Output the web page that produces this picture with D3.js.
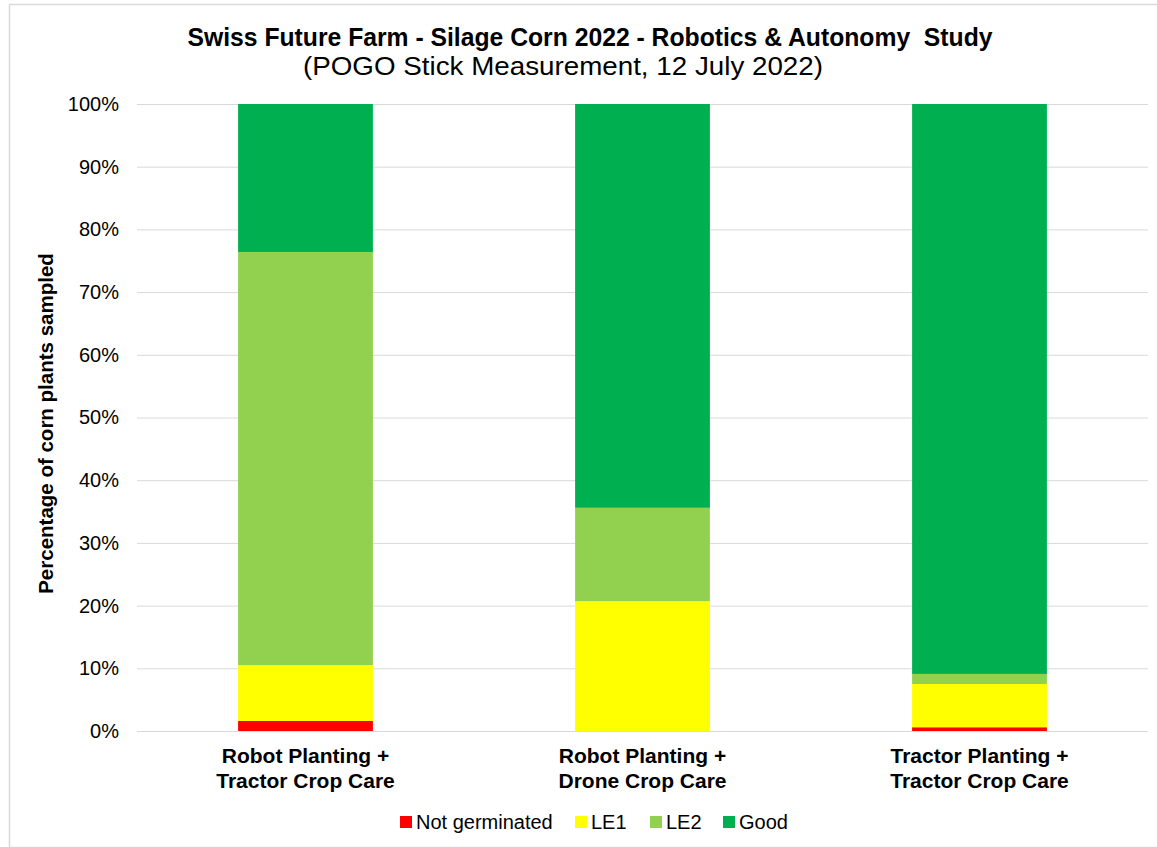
<!DOCTYPE html>
<html>
<head>
<meta charset="utf-8">
<script src="https://cdn.jsdelivr.net/npm/d3@7"></script>
<style>
  html, body { margin: 0; padding: 0; background: #fff; }
  svg { display: block; font-family: "Liberation Sans", Arial, sans-serif; }
</style>
</head>
<body>
<svg id="chart" width="1157" height="847"></svg>
<script>
const categories = [
  ["Robot Planting +", "Tractor Crop Care"],
  ["Robot Planting +", "Drone Crop Care"],
  ["Tractor Planting +", "Tractor Crop Care"]
];
const seriesNames = ["Not germinated", "LE1", "LE2", "Good"];
const seriesColors = ["#FF0000", "#FFFF00", "#92D050", "#00B050"];
const notGerminated = [1.6, 0.0, 0.6];
const le1 = [8.9, 20.7, 6.9];
const le2 = [65.9, 14.9, 1.6];
const good = [23.6, 64.4, 90.9];
const yTicks = [0, 10, 20, 30, 40, 50, 60, 70, 80, 90, 100];
const titleText = "Swiss Future Farm - Silage Corn 2022 - Robotics & Autonomy  Study";
const subtitleText = "(POGO Stick Measurement, 12 July 2022)";
const yAxisTitle = "Percentage of corn plants sampled";

const seriesValues = [notGerminated, le1, le2, good];
const rows = categories.map((c, i) => {
  const r = { key: i };
  seriesNames.forEach((s, j) => { r[s] = seriesValues[j][i]; });
  return r;
});
const stacked = d3.stack().keys(seriesNames)(rows);

const svg = d3.select("#chart");
const W = 1157, H = 847;
const plot = { left: 137, right: 1148, top: 104, bottom: 731 };

// outer border
svg.append("rect").attr("x", 9.5).attr("y", 4.5).attr("width", W + 5).attr("height", H - 4)
  .attr("fill", "#fff").attr("stroke", "#d9d9d9").attr("stroke-width", 1.5);

const x = d3.scaleBand().domain(d3.range(categories.length))
  .range([plot.left, plot.right]).paddingInner(0.6).paddingOuter(0.3);
const y = d3.scaleLinear().domain([0, 100]).range([plot.bottom, plot.top]);

// gridlines + ticks
const yAxis = d3.axisLeft(y).tickValues(yTicks).tickFormat(d => d + "%")
  .tickSize(-(plot.right - plot.left)).tickPadding(18);
const gy = svg.append("g").attr("transform", `translate(${plot.left},0)`).call(yAxis);
gy.select(".domain").remove();
gy.selectAll(".tick line").attr("stroke", "#d9d9d9").attr("stroke-width", 1);
gy.selectAll(".tick text").attr("fill", "#000").style("font-size", "20px")
  .style("font-family", "'Liberation Sans', Arial, sans-serif");

// bars
svg.append("g").selectAll("g").data(stacked).join("g")
  .attr("fill", (d, i) => seriesColors[i])
  .selectAll("rect").data(d => d).join("rect")
  .attr("x", (d, i) => x(i))
  .attr("width", x.bandwidth())
  .attr("y", d => y(d[1]))
  .attr("height", d => y(d[0]) - y(d[1]));

// x category labels
const xl = svg.append("g");
categories.forEach((lines, i) => {
  const t = xl.append("text").attr("text-anchor", "middle")
    .attr("font-weight", "bold").attr("font-size", "21px").attr("fill", "#000");
  lines.forEach((ln, k) => {
    t.append("tspan").attr("x", x(i) + x.bandwidth() / 2).attr("y", 763 + k * 25).text(ln);
  });
});

// titles
svg.append("text").attr("x", 590).attr("y", 46).attr("text-anchor", "middle")
  .attr("font-weight", "bold").attr("font-size", "25px").attr("fill", "#000")
  .attr("textLength", 805).attr("lengthAdjust", "spacingAndGlyphs")
  .style("white-space", "pre").text(titleText);
svg.append("text").attr("x", 563).attr("y", 75).attr("text-anchor", "middle")
  .attr("font-size", "25px").attr("fill", "#000")
  .attr("textLength", 520).attr("lengthAdjust", "spacingAndGlyphs")
  .text(subtitleText);

// y axis title
svg.append("text").attr("transform", `translate(53, ${(plot.top + plot.bottom) / 2 + 6}) rotate(-90)`)
  .attr("text-anchor", "middle").attr("font-weight", "bold").attr("font-size", "20.5px")
  .attr("fill", "#000").text(yAxisTitle);

// legend
const legendX = [400, 575, 650, 723];
const lg = svg.append("g");
seriesNames.forEach((s, i) => {
  lg.append("rect").attr("x", legendX[i]).attr("y", 816).attr("width", 12).attr("height", 12)
    .attr("fill", seriesColors[i]);
  lg.append("text").attr("x", legendX[i] + 16).attr("y", 829).attr("font-size", "20px")
    .attr("fill", "#000").text(s);
});
</script>
</body>
</html>
